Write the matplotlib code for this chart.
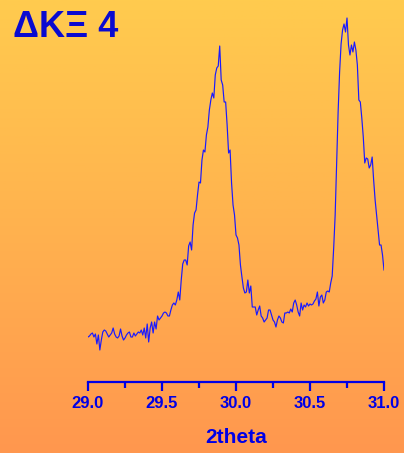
import numpy as np
import matplotlib
matplotlib.use("Agg")
import matplotlib.pyplot as plt
from matplotlib.colors import LinearSegmentedColormap
from matplotlib.ticker import MultipleLocator

# Scan range and step (degrees 2theta)
two_theta_start = 29.0
two_theta_step = 0.01

# Measured intensity (arbitrary units), one value per step
intensity = [
    45, 46, 48, 49, 45, 48, 38, 47, 32, 42,
    50, 52, 51, 48, 45, 47, 49, 54, 48, 45,
    44, 46, 53, 46, 42, 44, 47, 49, 50, 45,
    45, 49, 46, 48, 50, 49, 52, 47, 54, 44,
    58, 40, 54, 60, 49, 60, 53, 66, 62, 64,
    66, 69, 70, 69, 66, 66, 72, 77, 79, 77,
    82, 90, 82, 102, 118, 122, 122, 117, 136, 140,
    132, 157, 169, 172, 187, 200, 199, 222, 232, 230,
    247, 255, 272, 282, 289, 284, 307, 314, 316, 336,
    302, 297, 280, 280, 257, 229, 232, 199, 177, 167,
    147, 144, 137, 117, 105, 94, 89, 90, 102, 89,
    96, 75, 75, 75, 67, 72, 76, 66, 64, 60,
    62, 64, 72, 72, 67, 62, 60, 55, 62, 66,
    64, 60, 59, 69, 69, 70, 69, 73, 70, 79,
    82, 77, 70, 66, 79, 72, 77, 75, 79, 76,
    78, 77, 78, 81, 83, 90, 76, 85, 87, 79,
    82, 90, 91, 90, 99, 106, 134, 167, 217, 270,
    310, 338, 352, 358, 350, 364, 337, 327, 337, 330,
    340, 332, 317, 282, 280, 264, 245, 219, 224, 223,
    214, 217, 225, 202, 182, 167, 152, 137, 137, 127,
    112,
]

x_ticks = [29.0, 29.5, 30.0, 30.5, 31.0]
x_label = "2theta"
title = "ΔΚΞ 4"

blue = "#0000e6"
W, H, DPI = 404, 453, 100

fig = plt.figure(figsize=(W / DPI, H / DPI), dpi=DPI)

# Vertical warm gradient behind everything
bg = fig.add_axes([0, 0, 1, 1], zorder=0)
grad = np.linspace(0, 1, 256).reshape(-1, 1)
cmap = LinearSegmentedColormap.from_list("warm", ["#ffcb4e", "#ffb24e", "#ff974f"])
bg.imshow(grad, aspect="auto", cmap=cmap, extent=[0, 1, 0, 1], origin="upper")
bg.set_axis_off()

left, right = 88 / W, 384 / W
bottom = (H - 382) / H
ax = fig.add_axes([left, bottom, right - left, 1 - bottom], zorder=1)
ax.patch.set_alpha(0)

two_theta = two_theta_start + two_theta_step * np.arange(len(intensity))
ax.plot(two_theta, intensity, color="#1a1aff", lw=0.85)

ax.set_xlim(29.0, 31.0)
ax.set_ylim(0, 382)
for s in ["top", "right", "left"]:
    ax.spines[s].set_visible(False)
ax.spines["bottom"].set_color(blue)
ax.spines["bottom"].set_linewidth(1.6)
ax.set_yticks([])

ax.set_xticks(x_ticks)
ax.set_xticklabels([f"{t:.1f}" for t in x_ticks])
ax.xaxis.set_minor_locator(MultipleLocator(0.25))
ax.tick_params(axis="x", which="major", length=6.5, width=1.6, color=blue,
               pad=3.5, labelcolor=blue)
ax.tick_params(axis="x", which="minor", length=4, width=1.6, color=blue)
for lab in ax.get_xticklabels():
    lab.set_fontfamily("Liberation Sans")
    lab.set_fontweight("bold")
    lab.set_fontsize(12)

ax.set_xlabel(x_label, fontfamily="Liberation Sans", fontweight="bold",
              fontsize=15, color=blue, labelpad=12)

fig.text(13 / W, 1 - 37 / H, title, fontfamily="Liberation Sans",
         fontweight="bold", fontsize=26, color="#0a0ad0", va="baseline", ha="left")

fig.savefig("out.png", dpi=DPI)
